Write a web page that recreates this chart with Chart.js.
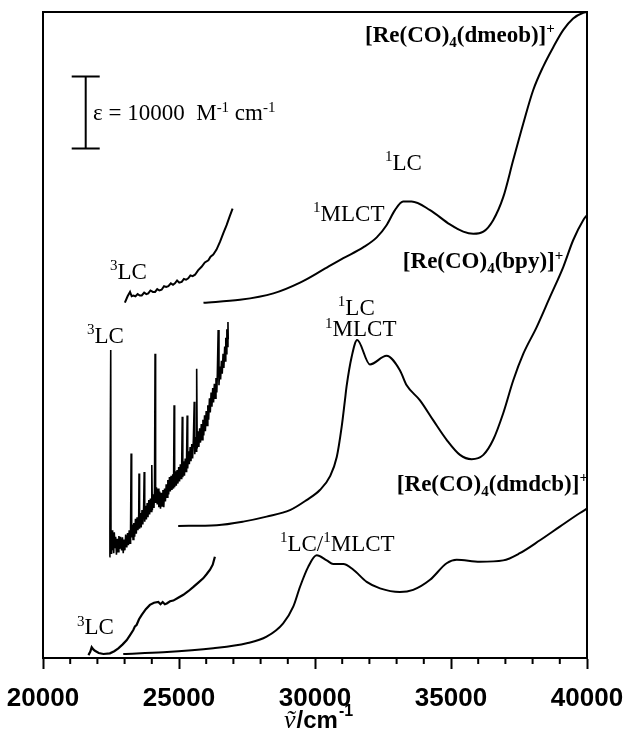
<!DOCTYPE html>
<html>
<head>
<meta charset="utf-8">
<script src="https://cdn.jsdelivr.net/npm/chart.js@4/dist/chart.umd.min.js"></script>
<style>
  body { margin: 0; background: #fff; }
  #wrap { width: 624px; height: 731px; }
</style>
</head>
<body>
<div id="wrap"><canvas id="spectra" width="624" height="731"></canvas></div>
<script>
// absorption spectra (wavenumber / cm-1, epsilon / 1000 M-1 cm-1, offset per complex)
const dmeobWn  = [25900, 27240, 28470, 29450, 30300, 31040, 31770, 32270, 32630, 32940, 33240, 33550, 34230, 34960, 35450, 35820, 36190, 36550, 36920, 37290, 37660, 38020, 38390, 38760, 39130, 39490, 39860, 40000];
const dmeobAbs = [49.5, 49.9, 50.8, 52.3, 54.1, 55.7, 57.2, 58.6, 60.3, 62.4, 63.6, 63.6, 62.4, 60.4, 59.4, 59.1, 59.4, 61.0, 64.2, 69.4, 74.5, 79.1, 82.4, 85.1, 87.5, 89.1, 89.9, 90.0];

const bpyWn  = [24970, 26390, 27360, 28220, 29080, 29690, 30180, 30550, 30800, 30980, 31100, 31160, 31350, 31550, 32020, 32630, 33120, 33370, 33860, 34350, 34840, 35330, 35760, 36190, 36550, 36920, 37290, 37660, 38150, 38640, 39130, 39490, 39860, 40000];
const bpyAbs = [18.4, 18.5, 19.0, 19.7, 20.6, 22.0, 23.4, 25.3, 28.0, 32.2, 35.9, 37.8, 42.0, 44.3, 40.9, 42.1, 40.1, 38.0, 35.9, 33.1, 30.4, 28.3, 27.7, 28.3, 30.4, 34.1, 38.7, 42.4, 46.1, 50.3, 54.5, 58.2, 61.0, 61.7];

const dmdcbWn  = [22950, 24420, 26260, 27490, 28220, 28830, 29200, 29450, 29750, 30060, 30430, 30670, 31040, 31410, 31900, 32390, 33120, 33610, 34230, 34840, 35210, 36060, 36920, 37530, 38270, 39000, 39740, 40000];
const dmdcbAbs = [0.56, 0.79, 1.35, 2.05, 2.97, 4.83, 7.15, 9.93, 12.7, 14.3, 13.6, 13.1, 13.1, 12.3, 10.6, 9.7, 9.2, 9.5, 10.9, 13.2, 13.7, 13.4, 13.6, 14.6, 16.4, 18.3, 20.2, 20.8];

// low energy 3LC traces
const dmeobLcWn = [23010, 23110, 23200, 23260, 23320, 23400, 23480, 23560, 23630, 23720, 23800, 23870, 23950, 24040, 24120, 24200, 24280, 24360, 24450, 24530, 24610, 24700, 24780, 24850, 24930, 25010, 25100, 25180, 25260, 25340, 25420, 25500, 25590, 25700, 25830, 25950, 26080, 26160, 26260, 26380, 26510, 26630, 26750, 26860, 26970];
const dmeobLc   = [49.5, 50.4, 51.0, 50.4, 50.5, 50.4, 50.7, 50.5, 50.5, 50.9, 50.7, 50.8, 51.2, 51.0, 51.0, 51.4, 51.2, 51.3, 51.8, 51.7, 51.8, 52.2, 52.0, 52.2, 52.6, 52.3, 52.4, 52.8, 52.7, 52.9, 53.3, 53.2, 53.4, 54.0, 54.5, 55.1, 55.4, 55.9, 56.2, 56.9, 58.0, 59.2, 60.3, 61.5, 62.6];

const bpyLcWn = [22440, 22460, 22490, 22500, 22520, 22540, 22560, 22580, 22600, 22620, 22650, 22670, 22700, 22730, 22760, 22790, 22820, 22850, 22890, 22920, 22950, 22980, 23010, 23040, 23080, 23110, 23140, 23170, 23200, 23220, 23240, 23260, 23290, 23310, 23340, 23370, 23400, 23430, 23460, 23490, 23520, 23530, 23550, 23580, 23610, 23640, 23670, 23700, 23720, 23740, 23770, 23800, 23830, 23860, 23890, 23920, 23950, 23980, 24000, 24020, 24050, 24080, 24100, 24120, 24140, 24170, 24200, 24230, 24260, 24290, 24320, 24350, 24380, 24410, 24440, 24470, 24500, 24530, 24560, 24590, 24620, 24650, 24680, 24710, 24740, 24770, 24800, 24820, 24840, 24870, 24900, 24930, 24960, 24990, 25020, 25050, 25080, 25100, 25120, 25140, 25170, 25200, 25230, 25260, 25280, 25300, 25320, 25350, 25380, 25410, 25440, 25470, 25500, 25530, 25560, 25580, 25610, 25630, 25650, 25670, 25700, 25730, 25760, 25790, 25820, 25850, 25880, 25910, 25940, 25970, 26000, 26030, 26060, 26090, 26120, 26150, 26180, 26210, 26240, 26270, 26300, 26330, 26360, 26390, 26410, 26440, 26470, 26500, 26530, 26560, 26590, 26620, 26650, 26680, 26700, 26720, 26740, 26760, 26780, 26800, 26810];
const bpyLc   = [14.1, 18.0, 42.9, 17.0, 14.5, 17.8, 15.0, 16.8, 14.6, 17.5, 15.4, 16.9, 14.4, 16.6, 14.8, 17.0, 15.2, 16.9, 15.0, 16.8, 14.6, 16.5, 15.0, 17.2, 15.4, 17.4, 15.7, 17.8, 16.0, 18.2, 28.5, 16.8, 18.6, 16.5, 18.8, 16.9, 19.4, 17.3, 19.6, 17.8, 20.0, 25.7, 18.0, 20.2, 18.2, 20.6, 18.6, 21.0, 25.9, 19.0, 21.2, 19.3, 21.6, 19.6, 22.0, 20.0, 22.2, 20.4, 26.9, 20.6, 22.8, 20.9, 23.4, 42.4, 21.6, 23.8, 21.4, 23.6, 21.0, 23.2, 20.8, 23.0, 21.2, 23.4, 21.0, 23.6, 21.8, 24.2, 22.4, 24.8, 22.8, 25.2, 23.2, 25.4, 23.4, 25.6, 23.6, 35.2, 23.8, 26.0, 24.0, 26.2, 24.3, 26.6, 24.6, 27.0, 25.0, 27.2, 33.6, 25.2, 27.4, 25.4, 27.8, 26.0, 28.2, 33.8, 26.4, 28.8, 27.0, 29.4, 27.4, 29.8, 27.8, 30.6, 35.7, 28.4, 30.8, 28.8, 40.3, 29.2, 31.6, 29.4, 32.0, 30.0, 32.6, 30.4, 33.2, 31.0, 33.8, 31.6, 34.4, 32.4, 35.2, 33.2, 36.2, 34.2, 37.0, 35.0, 37.6, 35.6, 38.2, 36.2, 39.0, 37.0, 39.6, 45.7, 38.0, 40.6, 38.8, 41.4, 39.6, 42.4, 40.4, 43.4, 41.4, 44.6, 42.4, 45.8, 43.4, 46.8, 44.4, 46.6, 45.0];

const dmdcbLcWn = [21670, 21740, 21790, 21850, 21910, 22050, 22220, 22460, 22620, 22770, 22930, 23080, 23200, 23320, 23380, 23440, 23530, 23630, 23780, 23930, 24080, 24240, 24320, 24400, 24480, 24550, 24670, 24790, 24970, 25160, 25340, 25530, 25710, 25890, 26020, 26140, 26240, 26320];
const dmdcbLc   = [0.4, 0.9, 1.5, 1.2, 1.0, 0.7, 0.56, 0.65, 0.95, 1.35, 1.9, 2.5, 3.2, 3.9, 4.4, 4.6, 5.4, 6.0, 6.8, 7.4, 7.7, 7.8, 7.5, 7.8, 7.5, 7.6, 7.9, 8.0, 8.4, 8.8, 9.3, 9.9, 10.5, 11.1, 11.7, 12.3, 13.0, 14.1];

// x tick labels
const xTicks = [20000, 25000, 30000, 35000, 40000];

// labels: [wavenumber, y, bold, parts]  parts: [text, 'sub'|'sup'|'']
const labels = [
  [31840, 85.8, true,  [['[Re(CO)', ''], ['4', 'sub'], ['(dmeob)]', ''], ['+', 'sup']]],
  [32570, 68.0, false, [['1', 'sup'], ['LC', '']]],
  [29930, 60.9, false, [['1', 'sup'], ['MLCT', '']]],
  [33230, 54.3, true,  [['[Re(CO)', ''], ['4', 'sub'], ['(bpy)]', ''], ['+', 'sup']]],
  [30840, 47.8, false, [['1', 'sup'], ['LC', '']]],
  [30370, 44.8, false, [['1', 'sup'], ['MLCT', '']]],
  [33010, 23.3, true,  [['[Re(CO)', ''], ['4', 'sub'], ['(dmdcb)]', ''], ['+', 'sup']]],
  [28710, 14.9, false, [['1', 'sup'], ['LC/', ''], ['1', 'sup'], ['MLCT', '']]],
  [22460, 52.8, false, [['3', 'sup'], ['LC', '']]],
  [21620, 43.9, false, [['3', 'sup'], ['LC', '']]],
  [21250, 3.3,  false, [['3', 'sup'], ['LC', '']]],
  [21840, 74.9, false, [['\u03b5 = 10000  M', ''], ['-1', 'sup'], [' cm', ''], ['-1', 'sup']]]
];

// scale bar: 10000 M-1 cm-1
const barWn = 21570;
const barFrom = 71;
const barTo = 81;

function toPoints(xs, ys) {
  return xs.map((x, i) => ({ x: x, y: ys[i] }));
}

function lineSet(xs, ys, width, smooth) {
  return {
    data: toPoints(xs, ys),
    borderColor: '#000',
    borderWidth: width,
    pointRadius: 0,
    fill: false,
    tension: smooth ? 0.35 : 0,
    cubicInterpolationMode: smooth ? 'monotone' : 'default'
  };
}

function drawRich(ctx, x, y, parts, size, bold) {
  let cx = x;
  parts.forEach(p => {
    const small = p[1] === 'sub' || p[1] === 'sup';
    const s = small ? Math.round(size * 0.66) : size;
    ctx.font = (bold ? 'bold ' : '') + s + 'px "Liberation Serif"';
    let dy = 0;
    if (p[1] === 'sub') dy = size * 0.22;
    if (p[1] === 'sup') dy = -size * 0.38;
    ctx.fillText(p[0], cx, y + dy);
    cx += ctx.measureText(p[0]).width;
  });
}

const decorations = {
  id: 'decorations',
  afterDraw(chart) {
    const ctx = chart.ctx;
    const xs = chart.scales.x;
    const ys = chart.scales.y;
    const area = chart.chartArea;
    ctx.save();
    ctx.strokeStyle = '#000';
    ctx.fillStyle = '#000';

    // frame
    ctx.lineWidth = 2;
    ctx.strokeRect(area.left, area.top, area.right - area.left, area.bottom - area.top);

    // minor ticks
    for (let v = 21000; v < 40000; v += 1000) {
      if (v % 5000 === 0) continue;
      const px = xs.getPixelForValue(v);
      ctx.beginPath();
      ctx.moveTo(px, area.bottom);
      ctx.lineTo(px, area.bottom + 6);
      ctx.stroke();
    }

    // scale bar
    const bx = xs.getPixelForValue(barWn);
    const by1 = ys.getPixelForValue(barFrom);
    const by2 = ys.getPixelForValue(barTo);
    ctx.lineWidth = 2;
    ctx.beginPath();
    ctx.moveTo(bx, by1); ctx.lineTo(bx, by2);
    ctx.moveTo(bx - 14, by1); ctx.lineTo(bx + 14, by1);
    ctx.moveTo(bx - 14, by2); ctx.lineTo(bx + 14, by2);
    ctx.stroke();

    // annotations
    ctx.textBaseline = 'alphabetic';
    ctx.textAlign = 'left';
    labels.forEach(l => {
      drawRich(ctx, xs.getPixelForValue(l[0]), ys.getPixelForValue(l[1]), l[3], 23, l[2]);
    });

    // axis title: nu-tilde / cm-1
    const tx = 284;
    const ty = 728;
    ctx.font = 'italic 26px "Liberation Serif"';
    ctx.fillText('\u1e7d', tx, ty);
    let cx = tx + ctx.measureText('\u1e7d').width + 1;
    ctx.font = 'bold 24px "Liberation Sans"';
    ctx.fillText('/cm', cx, ty);
    cx += ctx.measureText('/cm').width + 1;
    ctx.font = 'bold 16px "Liberation Sans"';
    ctx.fillText('-1', cx, ty - 12);
    ctx.restore();
  }
};

new Chart(document.getElementById('spectra').getContext('2d'), {
  type: 'line',
  data: {
    datasets: [
      lineSet(dmeobWn, dmeobAbs, 2, true),
      lineSet(bpyWn, bpyAbs, 2, true),
      lineSet(dmdcbWn, dmdcbAbs, 2, true),
      lineSet(dmeobLcWn, dmeobLc, 2, false),
      lineSet(bpyLcWn, bpyLc, 1.6, false),
      lineSet(dmdcbLcWn, dmdcbLc, 2.2, false)
    ]
  },
  options: {
    responsive: false,
    animation: false,
    layout: { padding: { left: 43, right: 37, top: 12, bottom: 0 } },
    plugins: { legend: { display: false }, tooltip: { enabled: false } },
    scales: {
      x: {
        type: 'linear',
        min: 20000,
        max: 40000,
        afterBuildTicks: (scale) => { scale.ticks = xTicks.map(v => ({ value: v })); },
        afterFit: (scale) => {
          scale.height = 73;
          scale.paddingLeft = 0;
          scale.paddingRight = 0;
        },
        ticks: {
          color: '#000',
          padding: 14,
          maxRotation: 0,
          font: { family: '"Liberation Sans"', weight: 'bold', size: 26 },
          callback: (v) => String(v)
        },
        grid: { drawOnChartArea: false, tickLength: 11, tickWidth: 2, tickColor: '#000' },
        border: { display: true, color: '#000', width: 2 }
      },
      y: {
        display: false,
        min: 0,
        max: 90
      }
    }
  },
  plugins: [decorations]
});
</script>
</body>
</html>
